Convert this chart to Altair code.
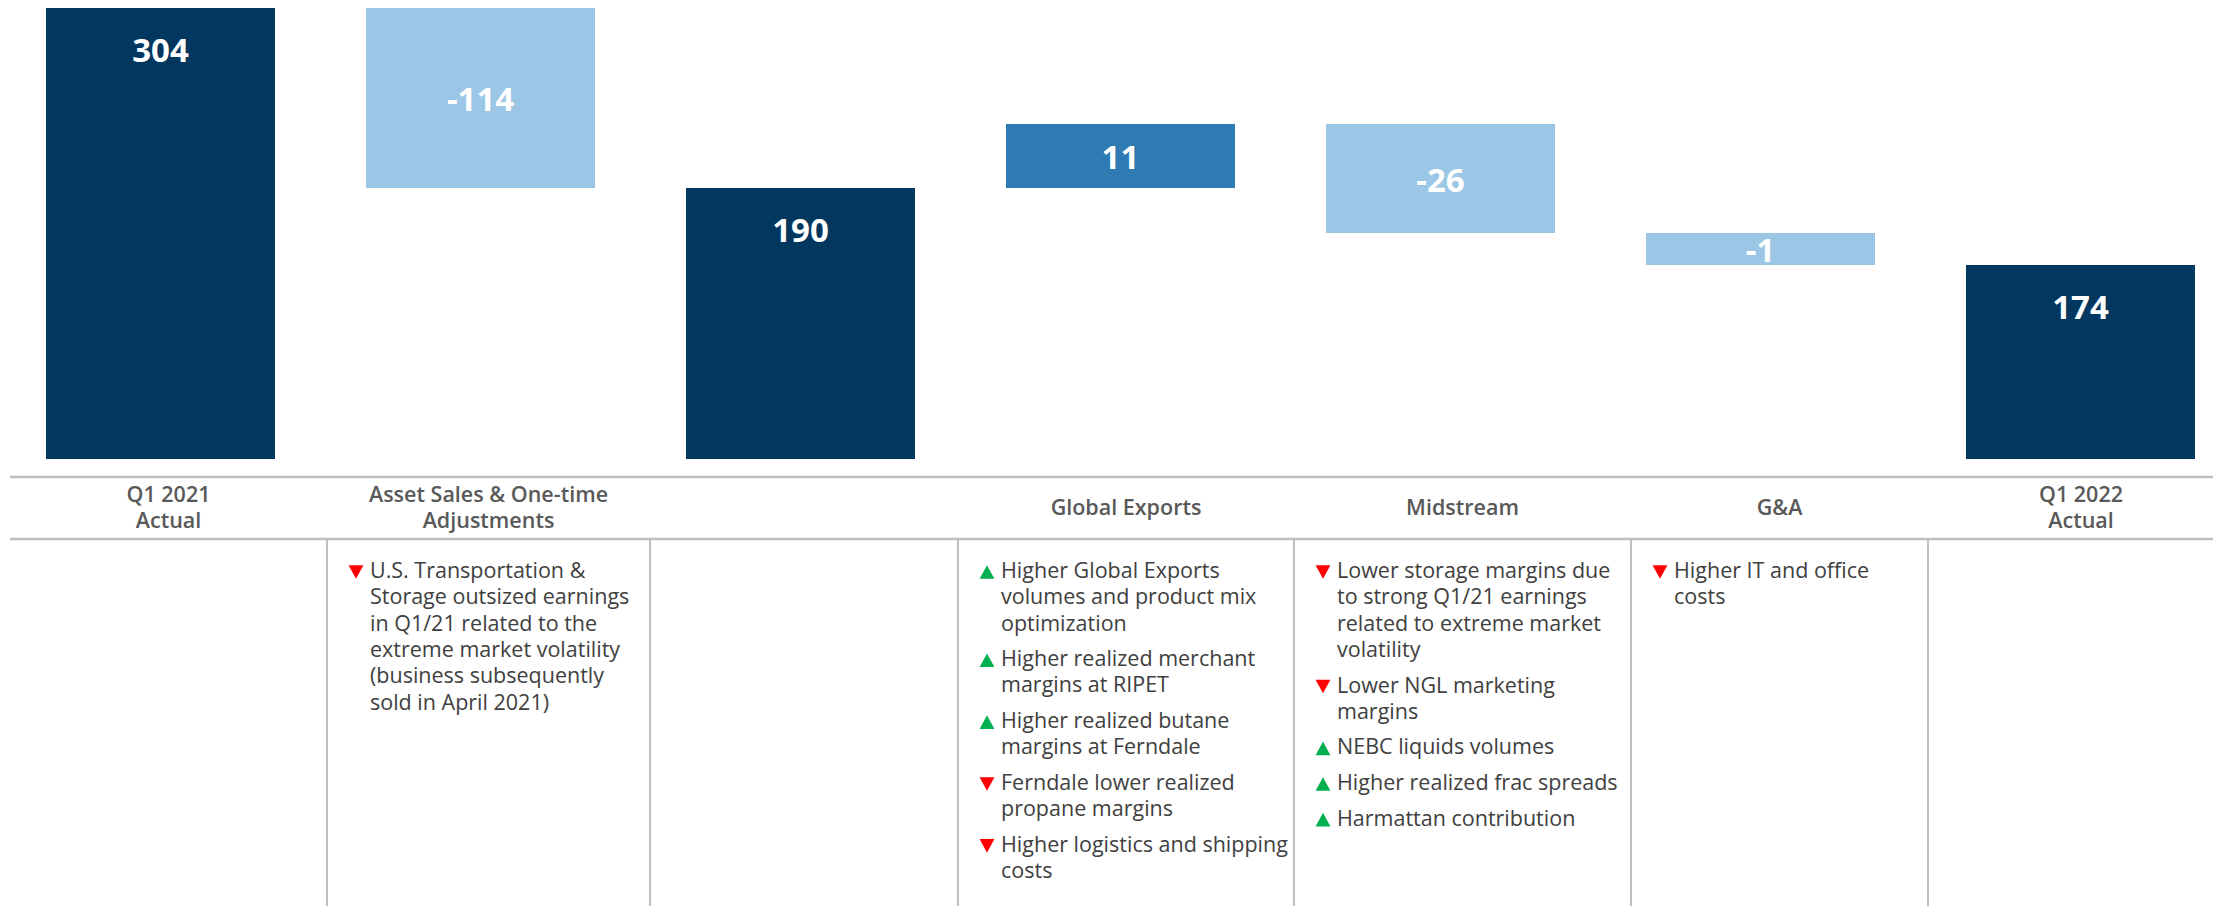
import altair as alt
import pandas as pd

# ---------------- data ----------------
categories = ["Q1 2021 Actual", "Asset Sales & One-time Adjustments", "Subtotal",
              "Global Exports", "Midstream", "G&A", "Q1 2022 Actual"]
bar_kind = ["total", "decrease", "total", "increase", "decrease", "decrease", "total"]
label_values = ["304", "-114", "190", "11", "-26", "-1", "174"]
# drawn bar extents (the original is not drawn to scale); units: first bar = 304 tall
bar_low = [0, 182.7, 0, 182.7, 152.3, 130.8, 0]
bar_high = [304, 304, 182.7, 225.8, 225.8, 152.3, 130.8]

header_lines = [["Q1 2021", "Actual"], ["Asset Sales & One-time", "Adjustments"], [],
                ["Global Exports"], ["Midstream"], ["G&A"], ["Q1 2022", "Actual"]]

bullet_column = [1, 3, 3, 3, 3, 3, 4, 4, 4, 4, 4, 5]
bullet_direction = ["down", "up", "up", "up", "down", "down",
                    "down", "down", "up", "up", "up", "down"]
bullet_lines = [
    ["U.S. Transportation &", "Storage outsized earnings", "in Q1/21 related to the",
     "extreme market volatility", "(business subsequently", "sold in April 2021)"],
    ["Higher Global Exports", "volumes and product mix", "optimization"],
    ["Higher realized merchant", "margins at RIPET"],
    ["Higher realized butane", "margins at Ferndale"],
    ["Ferndale lower realized", "propane margins"],
    ["Higher logistics and shipping", "costs"],
    ["Lower storage margins due", "to strong Q1/21 earnings", "related to extreme market", "volatility"],
    ["Lower NGL marketing", "margins"],
    ["NEBC liquids volumes"],
    ["Higher realized frac spreads"],
    ["Harmattan contribution"],
    ["Higher IT and office", "costs"],
]

# ---------------- layout / style ----------------
W, H = 2205, 898
FONT = "Open Sans"
C_TOTAL, C_UP, C_DOWN = "#02375f", "#2e7bb3", "#9bc6e5"
GRID = "#bfbfbf"
HALF_BAR = 0.3578
col_edges = [2, 319, 642, 950, 1286, 1623, 1920, 2226]
header_top, header_bottom = 469, 531
header_base_single, header_line_h = 507, 26
first_baseline, line_h, bullet_gap = 570, 26.3, 9.3

# ---------------- waterfall ----------------
bars_df = pd.DataFrame({"idx": list(range(len(categories))), "category": categories,
                        "kind": bar_kind, "label": label_values,
                        "low": bar_low, "high": bar_high})
xs = alt.Scale(domain=[-0.4766, 6.4141], nice=False, zero=False)
ys = alt.Scale(domain=[-301.3, 304], nice=False, zero=False)

base = alt.Chart(bars_df).transform_calculate(
    xa=f"datum.idx - {HALF_BAR}", xb=f"datum.idx + {HALF_BAR}",
    mid="(datum.low + datum.high) / 2")

bars = base.mark_rect().encode(
    x=alt.X("xa:Q", scale=xs, axis=None), x2="xb:Q",
    y=alt.Y("low:Q", scale=ys, axis=None), y2="high:Q",
    color=alt.Color("kind:N", legend=None,
                    scale=alt.Scale(domain=["total", "increase", "decrease"],
                                    range=[C_TOTAL, C_UP, C_DOWN])))

lab_total = base.transform_filter("datum.kind == 'total'").mark_text(
    font=FONT, fontSize=33, fontWeight="bold", color="white", baseline="middle", dy=44
).encode(x=alt.X("idx:Q", scale=xs, axis=None), y=alt.Y("high:Q", scale=ys, axis=None),
         text="label:N")
lab_delta = base.transform_filter("datum.kind != 'total'").mark_text(
    font=FONT, fontSize=33, fontWeight="bold", color="white", baseline="middle", dy=3
).encode(x=alt.X("idx:Q", scale=xs, axis=None), y=alt.Y("mid:Q", scale=ys, axis=None),
         text="label:N")

waterfall = alt.layer(bars, lab_total, lab_delta)

# ---------------- table below ----------------
px = alt.Scale(domain=[0, W], range=[0, W], nice=False, zero=False)
py = alt.Scale(domain=[0, H], range=[0, H], nice=False, zero=False)

hl_df = pd.DataFrame({"y": [header_top, header_bottom], "x": [col_edges[0]] * 2, "x2": [W] * 2})
hlines = alt.Chart(hl_df).mark_rule(color=GRID, strokeWidth=2.5).encode(
    x=alt.X("x:Q", scale=px, axis=None), x2="x2:Q", y=alt.Y("y:Q", scale=py, axis=None))

vl_df = pd.DataFrame({"x": col_edges[1:7], "y": [header_bottom] * 6, "y2": [H] * 6})
vlines = alt.Chart(vl_df).mark_rule(color=GRID, strokeWidth=2).encode(
    x=alt.X("x:Q", scale=px, axis=None), y=alt.Y("y:Q", scale=py, axis=None), y2="y2:Q")

hd_rows = []
for i, lines in enumerate(header_lines):
    y0 = header_base_single - (len(lines) - 1) * header_line_h / 2
    for j, line in enumerate(lines):
        hd_rows.append({"x": (col_edges[i] + col_edges[i + 1]) / 2,
                        "y": y0 + j * header_line_h, "t": line})
headers = alt.Chart(pd.DataFrame(hd_rows)).mark_text(
    font=FONT, fontSize=21.5, fontWeight=600, color="#595959", align="center",
    baseline="alphabetic"
).encode(x=alt.X("x:Q", scale=px, axis=None), y=alt.Y("y:Q", scale=py, axis=None), text="t:N")

b_rows = []
used = {}
for col, d, lines in zip(bullet_column, bullet_direction, bullet_lines):
    n_prev, k_prev = used.get(col, (0, 0))
    y0 = first_baseline + n_prev * line_h + k_prev * bullet_gap
    b_rows.append({"tx": col_edges[col] + 43, "mx": col_edges[col] + 29,
                   "y": y0, "my": y0 - 6, "dir": d, "t": "\n".join(lines)})
    used[col] = (n_prev + len(lines), k_prev + 1)
b_df = pd.DataFrame(b_rows)

btext = alt.Chart(b_df).mark_text(
    font=FONT, fontSize=21.5, color="#404040", align="left", baseline="alphabetic",
    lineBreak="\n", lineHeight=line_h
).encode(x=alt.X("tx:Q", scale=px, axis=None), y=alt.Y("y:Q", scale=py, axis=None), text="t:N")

up_path = "M0,-0.92L1,0.92L-1,0.92Z"
down_path = "M-1,-0.92L1,-0.92L0,0.92Z"
markers = alt.Chart(b_df).mark_point(filled=True, size=220, opacity=1, strokeWidth=0).encode(
    x=alt.X("mx:Q", scale=px, axis=None), y=alt.Y("my:Q", scale=py, axis=None),
    shape=alt.Shape("dir:N", legend=None,
                    scale=alt.Scale(domain=["up", "down"], range=[up_path, down_path])),
    color=alt.Color("dir:N", legend=None,
                    scale=alt.Scale(domain=["up", "down"], range=["#00b050", "#ff0000"])))

table = alt.layer(hlines, vlines, headers, btext, markers)

chart = alt.layer(waterfall, table).resolve_scale(
    x="independent", y="independent", color="independent", shape="independent"
).properties(
    width=W, height=H, autosize=alt.AutoSizeParams(type="none"), padding=0, background="white"
).configure_view(stroke=None)

chart.save("out.html", embed_options={"renderer": "svg", "actions": False})
